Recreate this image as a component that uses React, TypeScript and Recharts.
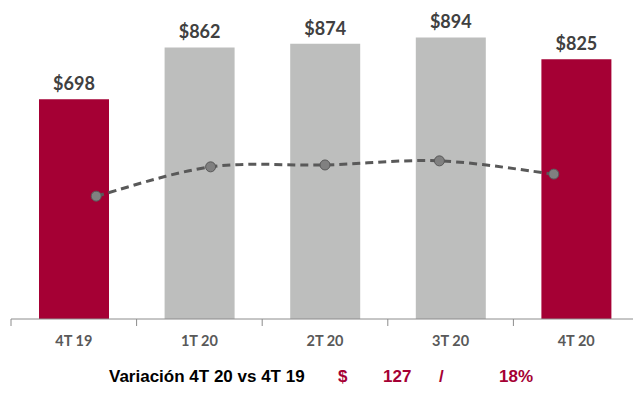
import React from 'react';
import { ComposedChart, Bar, Line, XAxis, YAxis, Cell, LabelList } from 'recharts';

const categories = ['4T 19', '1T 20', '2T 20', '3T 20', '4T 20'];
const barValues = [698, 862, 874, 894, 825];
const lineValues = [390, 483, 489, 502, 460];
const highlighted = [true, false, false, false, true];
const variationLabel = 'Variación 4T 20 vs 4T 19';
const variationAmount = '127';
const variationPct = '18%';

const data = categories.map((c, i) => ({ cat: c, bar: barValues[i], line: lineValues[i] }));

const RED = '#A50034';
const GRAY = '#BDBEBD';
const CHART_W = 639;
const M_LEFT = 11;
const HALF_BAND = (CHART_W - M_LEFT) / categories.length / 2;

// Excel-like smoothed line (Catmull-Rom style bezier)
const smoothCurve = (context: any) => {
  let pts: number[][] = [];
  return {
    areaStart() {},
    areaEnd() {},
    lineStart() {
      pts = [];
    },
    point(x: number, y: number) {
      pts.push([+x, +y]);
    },
    lineEnd() {
      if (!pts.length) return;
      context.moveTo(pts[0][0], pts[0][1]);
      for (let i = 0; i < pts.length - 1; i++) {
        const p0 = pts[i - 1] || pts[i];
        const p1 = pts[i];
        const p2 = pts[i + 1];
        const p3 = pts[i + 2] || p2;
        const c1x = p1[0] + (p2[0] - p0[0]) / 6;
        const c1y = p1[1] + (p2[1] - p0[1]) / 6;
        const c2x = p2[0] - (p3[0] - p1[0]) / 6;
        const c2y = p2[1] - (p3[1] - p1[1]) / 6;
        context.bezierCurveTo(c1x, c1y, c2x, c2y, p2[0], p2[1]);
      }
    },
  };
};

const Tick = (props: any) => {
  const { x, y, payload } = props;
  return (
    <g>
      <line x1={x - HALF_BAND} x2={x - HALF_BAND} y1={y} y2={y + 7} stroke="#8C8C8C" strokeWidth={1} />
      <text x={x} y={y + 27} textAnchor="middle" fill="#595959" fontSize={14.5} fontWeight="bold" fontFamily="Lato, 'Open Sans', sans-serif">
        {payload.value}
      </text>
    </g>
  );
};

const narrow = "'Liberation Sans Narrow', 'Arial Narrow', 'Liberation Sans', sans-serif";

export default function App() {
  return (
    <div style={{ position: 'absolute', left: 0, top: 0, width: 633, height: 405, overflow: 'hidden', background: '#fff' }}>
      <ComposedChart width={CHART_W} height={405} data={data} margin={{ top: 4, right: 0, bottom: 0, left: M_LEFT }}>
        <XAxis dataKey="cat" xAxisId="bars" height={86} tickSize={0} tickMargin={0} tickLine={false} axisLine={{ stroke: '#8C8C8C' }} tick={<Tick />} interval={0} />
        <XAxis dataKey="cat" xAxisId="line" hide padding={{ left: 28, right: 28 }} />
        <YAxis yAxisId="left" hide domain={[0, 1000]} />
        <YAxis yAxisId="right" hide domain={[0, 1000]} orientation="right" />
        <Bar dataKey="bar" xAxisId="bars" yAxisId="left" barSize={70} isAnimationActive={false}>
          {data.map((d, i) => (
            <Cell key={d.cat} fill={highlighted[i] ? RED : GRAY} />
          ))}
          <LabelList dataKey="bar" position="top" offset={9} formatter={(v: any) => `$${v}`} fill="#404040" fontSize={18} fontWeight="bold" fontFamily="Lato, 'Open Sans', sans-serif" />
        </Bar>
        <Line dataKey="line" xAxisId="line" yAxisId="right" type={smoothCurve as any} stroke="#595959" strokeWidth={3} strokeDasharray="8 5" dot={{ r: 5, fill: '#808080', stroke: '#595959', strokeWidth: 1, strokeDasharray: '' }} isAnimationActive={false} />
      </ComposedChart>
      <div style={{ position: 'absolute', left: 109, top: 367, fontFamily: narrow, fontWeight: 'bold', fontSize: 17, color: '#000', whiteSpace: 'nowrap' }}>{variationLabel}</div>
      <div style={{ position: 'absolute', left: 338, top: 367, fontFamily: narrow, fontWeight: 'bold', fontSize: 17, color: RED }}>$</div>
      <div style={{ position: 'absolute', left: 383, top: 367, fontFamily: narrow, fontWeight: 'bold', fontSize: 17, color: RED }}>{variationAmount}</div>
      <div style={{ position: 'absolute', left: 439, top: 367, fontFamily: narrow, fontWeight: 'bold', fontSize: 17, color: RED }}>/</div>
      <div style={{ position: 'absolute', left: 499, top: 367, fontFamily: narrow, fontWeight: 'bold', fontSize: 17, color: RED }}>{variationPct}</div>
    </div>
  );
}
